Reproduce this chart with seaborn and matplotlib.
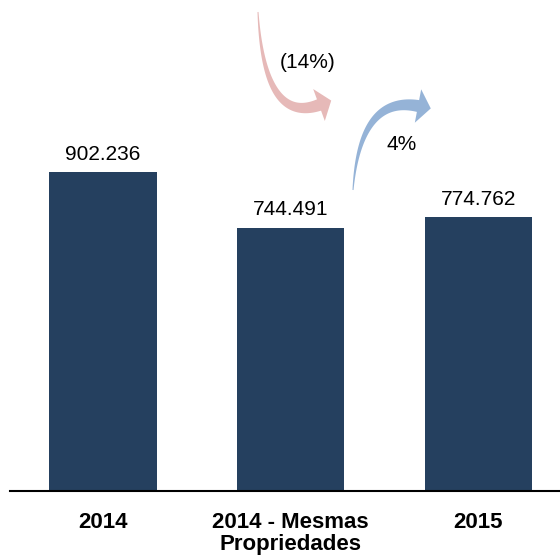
import matplotlib
matplotlib.use("Agg")
import matplotlib.pyplot as plt
from matplotlib.patches import Polygon
import numpy as np
import seaborn as sns
import pandas as pd

categories = ["2014", "2014 - Mesmas\nPropriedades", "2015"]
values = [902.236, 744.491, 774.762]
value_labels = ["902.236", "744.491", "774.762"]
change_labels = ["(14%)", "4%"]

bar_color = "#25405F"
pink = "#E6B9B8"
blue = "#95B3D7"

sns.set_theme(style="white")
plt.rcParams["font.family"] = ["Liberation Sans", "DejaVu Sans"]

fig = plt.figure(figsize=(5.6, 5.58), dpi=100)
ax = fig.add_axes([10 / 560, 67 / 558, 550 / 560, 491 / 558])

df = pd.DataFrame({"cat": categories, "val": values})
sns.barplot(data=df, x="cat", y="val", color=bar_color, width=0.5726,
            saturation=1, ax=ax, edgecolor="none")

ax.set_ylim(0, 1388.6)
ax.set_xlim(-0.495, 2.435)
for s in ["top", "right", "left"]:
    ax.spines[s].set_visible(False)
ax.spines["bottom"].set_color("black")
ax.spines["bottom"].set_linewidth(1.5)
ax.set_yticks([])
ax.set_xlabel("")
ax.set_ylabel("")
ax.tick_params(axis="x", length=0, pad=15)
for lab in ax.get_xticklabels():
    lab.set_fontsize(16)
    lab.set_fontweight("bold")
    lab.set_color("black")
    lab.set_linespacing(1.05)

ax.bar_label(ax.containers[0], labels=value_labels, padding=6, fontsize=15, color="black")


def curved_arrow(start, ctrl, end, w0, w1, head_half, head_len, color):
    A, C, B = (np.array(p, float) for p in (start, ctrl, end))
    t = np.linspace(0, 1, 60)[:, None]
    pts = (1 - t) ** 2 * A + 2 * (1 - t) * t * C + t ** 2 * B
    der = 2 * (1 - t) * (C - A) + 2 * t * (B - C)
    der /= np.linalg.norm(der, axis=1, keepdims=True)
    nrm = np.column_stack([-der[:, 1], der[:, 0]])
    hw = (w0 + (w1 - w0) * t) / 2
    left = pts + nrm * hw
    right = pts - nrm * hw
    d = der[-1]
    n = nrm[-1]
    tip = B + d * head_len
    head = [B + n * head_half, tip, B - n * head_half]
    poly = np.vstack([left, head, right[::-1]])
    poly_fig = np.column_stack([poly[:, 0] / 560, (558 - poly[:, 1]) / 558])
    fig.patches.append(Polygon(poly_fig, closed=True, transform=fig.transFigure,
                               facecolor=color, edgecolor="none"))


curved_arrow((258, 12), (264, 125), (319, 105), 1.0, 12, 17, 13, pink)
curved_arrow((353, 190), (360, 95), (418, 106), 1.0, 12, 17, 13, blue)

fig.text(308 / 560, (558 - 63) / 558, change_labels[0], ha="center", va="center",
         fontsize=15, color="black")
fig.text(402 / 560, (558 - 145) / 558, change_labels[1], ha="center", va="center",
         fontsize=15, color="black")

fig.savefig("out.png", dpi=100)
